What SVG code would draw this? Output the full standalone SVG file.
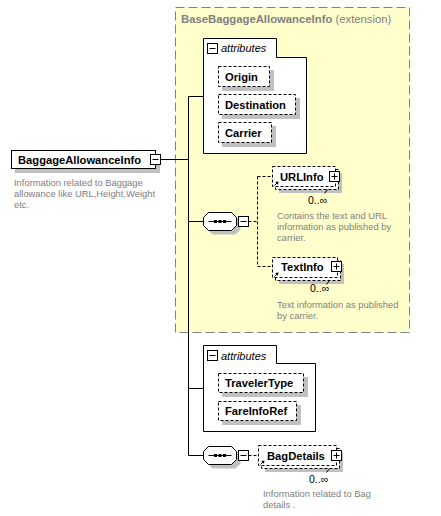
<svg xmlns="http://www.w3.org/2000/svg" width="441" height="516" viewBox="0 0 441 516">
<defs>
<style>
.lbl{font-family:"Liberation Sans",Arial,sans-serif;font-size:11.2px;font-weight:bold;fill:#000}
.ttl{font-family:"Liberation Sans",Arial,sans-serif;font-size:11.3px;fill:#808080}
.desc{font-family:"Liberation Sans",Arial,sans-serif;font-size:9.4px;fill:#808080}
.occ{font-family:"Liberation Sans",Arial,sans-serif;font-size:10.5px;fill:#000}
.ital{font-family:"Liberation Sans",Arial,sans-serif;font-size:11px;font-style:italic;fill:#000}
.shadow{fill:#c0c0c0}
.box{fill:#fff;stroke:#000;stroke-width:1}
.dbox{fill:#fff;stroke:#000;stroke-width:1;stroke-dasharray:3,2}
.line{stroke:#000;stroke-width:1;fill:none}
.dline{stroke:#000;stroke-width:1;fill:none;stroke-dasharray:3,2}
</style>
<g id="minus"><rect x="0.5" y="0.5" width="10" height="10" class="box"/><path d="M2.5,5.5H8.5" class="line"/></g>
<g id="plus"><rect x="0.5" y="0.5" width="10" height="10" class="box"/><path d="M2.5,5.5H8.5M5.5,2.5V8.5" class="line"/></g>
<g id="ref"><path d="M0.5,4.5L3.5,1.5" class="line"/><path d="M4.5,0.5L1.2,1L4,3.8Z" fill="#000"/></g>
<g id="octagon"><polygon points="5,0 28,0 33,5 33,13 28,18 5,18 0,13 0,5" class="box"/><path d="M5,9H28" class="line"/><rect x="10.5" y="7.5" width="3" height="3" fill="#000"/><rect x="15" y="7.5" width="3" height="3" fill="#000"/><rect x="19.5" y="7.5" width="3" height="3" fill="#000"/></g>
</defs>

<g id="extension">
<rect x="175.5" y="7.5" width="234" height="325" fill="#ffffcc" stroke="#808080" stroke-dasharray="9,4"/>
<text x="181" y="23" class="ttl"><tspan font-weight="bold">BaseBaggageAllowanceInfo</tspan> (extension)</text>
</g>

<g id="connectors">
<path d="M161,159.5H188.5" class="line"/>
<path d="M188.5,96.5V455.5" class="line"/>
<path d="M188.5,96.5H203.5M188.5,221.5H203.5M188.5,388.5H203.5M188.5,455.5H203.5" class="line"/>
<path d="M248.5,221.5H257.5M257.5,176.5V266.5M257.5,176.5H272.5M257.5,266.5H272.5" class="dline"/>
<path d="M248.5,455.5H258.5" class="dline"/>
</g>

<g id="BaggageAllowanceInfo">
<rect x="15" y="154" width="145" height="19" class="shadow"/>
<rect x="11.5" y="150.5" width="144" height="18" class="box"/>
<text x="18" y="163.5" class="lbl">BaggageAllowanceInfo</text>
<use href="#minus" x="150" y="154"/>
<text class="desc"><tspan x="14" y="185.5">Information related to Baggage</tspan><tspan x="14" y="196.5">allowance like URL,Height,Weight</tspan><tspan x="14" y="207.5">etc.</tspan></text>
</g>

<g id="attributes1">
<path d="M203.5,38.5H276.5V57.5H306.5V153.5H203.5Z" class="box"/>
<use href="#minus" x="207" y="43"/>
<text x="221" y="52" class="ital">attributes</text>
</g>
<g id="Origin">
<rect x="222" y="70" width="52" height="21" class="shadow"/>
<rect x="218.5" y="66.5" width="51" height="20" class="dbox"/>
<text x="225" y="80.5" class="lbl">Origin</text>
</g>
<g id="Destination">
<rect x="222" y="98" width="78" height="21" class="shadow"/>
<rect x="218.5" y="94.5" width="77" height="20" class="dbox"/>
<text x="225" y="108.5" class="lbl">Destination</text>
</g>
<g id="Carrier">
<rect x="222" y="126" width="54" height="21" class="shadow"/>
<rect x="218.5" y="122.5" width="53" height="20" class="dbox"/>
<text x="225" y="136.5" class="lbl">Carrier</text>
</g>

<g id="sequence1">
<polygon points="212.5,216.5 235.5,216.5 240.5,221.5 240.5,229.5 235.5,234.5 212.5,234.5 207.5,229.5 207.5,221.5" class="shadow"/>
<use href="#octagon" x="203.5" y="212.5"/>
<use href="#minus" x="238" y="216"/>
</g>

<g id="URLInfo">
<rect x="279" y="173" width="63" height="20" class="shadow"/>
<rect x="275.5" y="169.5" width="63" height="20" class="dbox"/>
<rect x="272.5" y="166.5" width="63" height="20" class="dbox"/>
<text x="280" y="180.5" class="lbl">URLInfo</text>
<use href="#plus" x="329" y="171"/>
<use href="#ref" x="274" y="181"/>
<path d="M327.5,189.5L324.5,193.5" class="line"/>
<text x="308" y="204" class="occ">0..∞</text>
<text class="desc"><tspan x="277" y="219">Contains the text and URL</tspan><tspan x="277" y="230">information as published by</tspan><tspan x="277" y="241">carrier.</tspan></text>
</g>

<g id="TextInfo">
<rect x="279" y="264" width="65" height="20" class="shadow"/>
<rect x="275.5" y="260.5" width="65" height="20" class="dbox"/>
<rect x="272.5" y="257.5" width="65" height="20" class="dbox"/>
<text x="281" y="271" class="lbl">TextInfo</text>
<use href="#plus" x="331" y="261"/>
<use href="#ref" x="274" y="272"/>
<path d="M329.5,280.5L326.5,284.5" class="line"/>
<text x="310" y="292" class="occ">0..∞</text>
<text class="desc"><tspan x="277" y="308">Text information as published</tspan><tspan x="277" y="319">by carrier.</tspan></text>
</g>

<g id="attributes2">
<path d="M203.5,345.5H276.5V363.5H315.5V431.5H203.5Z" class="box"/>
<use href="#minus" x="207" y="350"/>
<text x="221" y="359.5" class="ital">attributes</text>
</g>
<g id="TravelerType">
<rect x="222" y="377" width="86" height="20" class="shadow"/>
<rect x="218.5" y="373.5" width="85" height="19" class="dbox"/>
<text x="225" y="387" class="lbl">TravelerType</text>
</g>
<g id="FareInfoRef">
<rect x="222" y="405" width="79" height="20" class="shadow"/>
<rect x="218.5" y="401.5" width="78" height="19" class="dbox"/>
<text x="225" y="415" class="lbl">FareInfoRef</text>
</g>

<g id="sequence2">
<polygon points="212.5,450.5 235.5,450.5 240.5,455.5 240.5,463.5 235.5,468.5 212.5,468.5 207.5,463.5 207.5,455.5" class="shadow"/>
<use href="#octagon" x="203.5" y="446.5"/>
<use href="#minus" x="238" y="450"/>
</g>

<g id="BagDetails">
<rect x="265" y="452" width="78" height="20" class="shadow"/>
<rect x="261.5" y="448.5" width="78" height="20" class="dbox"/>
<rect x="258.5" y="445.5" width="78" height="20" class="dbox"/>
<text x="267" y="459.5" class="lbl">BagDetails</text>
<use href="#plus" x="331" y="450"/>
<use href="#ref" x="260" y="460"/>
<path d="M329.5,468.5L326.5,472.5" class="line"/>
<text x="309" y="483" class="occ">0..∞</text>
<text class="desc"><tspan x="263" y="497">Information related to Bag</tspan><tspan x="263" y="508">details .</tspan></text>
</g>
</svg>
